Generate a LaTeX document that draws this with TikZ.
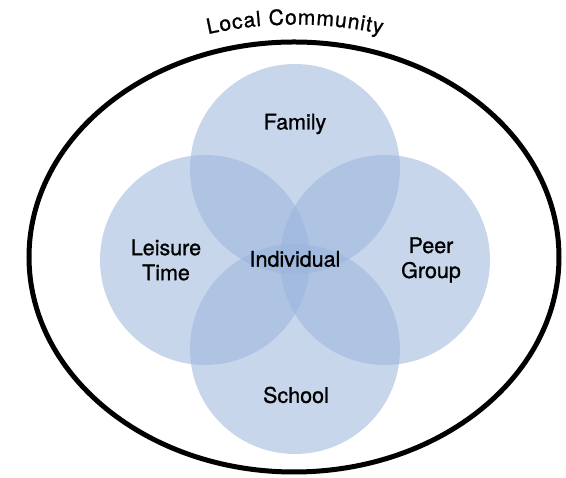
\documentclass[tikz,border=0pt]{standalone}
\usepackage{fontspec}
\setmainfont{TeX Gyre Heros}
\newfontfamily\heavyfont[FakeBold=1]{TeX Gyre Heros}
\definecolor{ringblue}{RGB}{154,180,220}
\tikzset{
  ring/.style={fill=ringblue, fill opacity=0.55},
  lbl/.style={font=\heavyfont\fontsize{21.5}{25}\selectfont, align=center, inner sep=0pt},
  titlechar/.style={font=\heavyfont\fontsize{21}{24}\selectfont, inner sep=0pt, anchor=base}
}

\begin{document}
\begin{tikzpicture}[x=1pt, y=1pt]
			\useasboundingbox (0, 0) rectangle (566, 478);
			
			% community border
			\draw[line width=5pt] (294, 221) ellipse (265 and 215);
			% title letters set one by one on an arc of radius 398
			\foreach \ch/\ang [count=\k] in {L/101.76, o/99.95, c/98.22, a/96.49, l/95.18,
			    C/92.65, o/90.58, m/88.35, m/85.70, u/83.47, n/81.65, i/80.35, t/79.46, y/78.15}
			  \path (295, 55.5) ++(\ang:398) node[titlechar, rotate=\ang-90] (title\k) {\ch};
			
			% four settings
			\fill[ring] (295, 309) circle (105);
			\fill[ring] (205, 218) circle (105);
			\fill[ring] (385, 218) circle (105);
			\fill[ring] (295, 129) circle (105);
			
			\node[lbl] (family) at (295, 354) {Family};
			\node[lbl] (leisure) at (166, 218) {Leisure\\Time};
			\node[lbl] (peer) at (431, 218) {Peer\\Group};
			\node[lbl] (school) at (296, 83) {School};
			\node[lbl] (individual) at (295, 219) {Individual};
			
\end{tikzpicture}
\end{document}
